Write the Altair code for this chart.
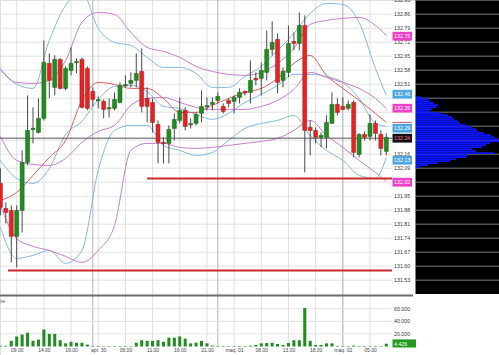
import altair as alt
import pandas as pd

# ---------------- data ----------------
opens = [132.014,131.889,131.879,131.749,131.879,132.119,132.284,132.269,132.339,132.614,
         132.494,132.634,132.489,132.579,132.619,132.634,132.589,132.474,132.429,132.424,
         132.389,132.389,132.419,132.504,132.514,132.529,132.574,132.439,132.419,132.309,
         132.219,132.214,132.289,132.329,132.379,132.309,132.314,132.364,132.399,132.409,
         132.429,132.399,132.429,132.424,132.444,132.474,132.469,132.539,132.539,132.569,
         132.684,132.734,132.529,132.569,132.724,132.714,132.804,132.294,132.279,132.244,
         132.244,132.314,132.409,132.399,132.389,132.419,132.159,132.259,132.249,132.314,
         132.259,132.174]
highs = [132.089,131.919,131.904,131.904,132.179,132.454,132.394,132.439,132.729,132.664,
         132.654,132.639,132.599,132.694,132.639,132.644,132.599,132.494,132.449,132.434,
         132.439,132.469,132.519,132.554,132.569,132.664,132.689,132.494,132.439,132.329,
         132.244,132.304,132.364,132.444,132.394,132.339,132.369,132.479,132.444,132.444,
         132.469,132.414,132.439,132.454,132.489,132.479,132.629,132.569,132.619,132.779,
         132.824,132.764,132.594,132.804,132.769,132.869,132.854,132.329,132.294,132.269,
         132.354,132.469,132.439,132.444,132.429,132.429,132.264,132.274,132.359,132.329,
         132.279,132.264]
lows = [131.854,131.814,131.619,131.594,131.769,132.104,132.214,132.264,132.329,132.439,
        132.454,132.484,132.479,132.554,132.564,132.389,132.379,132.399,132.389,132.339,
        132.344,132.379,132.414,132.494,132.494,132.494,132.369,132.319,132.269,132.114,
        132.114,132.114,132.229,132.314,132.279,132.289,132.304,132.319,132.379,132.379,
        132.414,132.364,132.394,132.364,132.414,132.454,132.414,132.504,132.454,132.529,
        132.654,132.464,132.494,132.544,132.679,132.679,132.069,132.154,132.214,132.194,
        132.189,132.314,132.354,132.379,132.379,132.144,132.144,132.229,132.229,132.229,
        132.154,132.154]
closes = [131.894,131.869,131.749,131.879,132.119,132.279,132.289,132.339,132.619,132.529,
          132.634,132.489,132.589,132.614,132.622,132.394,132.389,132.434,132.431,132.384,
          132.391,132.434,132.504,132.506,132.529,132.564,132.399,132.399,132.319,132.219,
          132.214,132.284,132.334,132.379,132.299,132.311,132.359,132.399,132.401,132.419,
          132.449,132.374,132.414,132.444,132.469,132.466,132.529,132.531,132.579,132.684,
          132.719,132.519,132.574,132.714,132.714,132.804,132.279,132.279,132.244,132.254,
          132.319,132.409,132.369,132.384,132.409,132.169,132.259,132.244,132.314,132.264,
          132.189,132.244]
volumes = [1000,1000,9000,16000,19000,22000,9000,11000,27000,20000,
           20000,10000,5000,7500,6000,6000,3000,1000,1000,800,
           800,800,800,800,800,6000,10000,9000,9000,10000,
           7500,14000,14000,16000,12500,5000,6000,9000,5000,1500,
           800,800,800,800,800,800,1500,2500,5000,5500,
           6000,4000,2500,5500,10000,10000,61000,9000,2500,2500,
           5000,5000,1000,800,800,1500,800,800,800,800,
           800,4426]

# band / average lines, sampled at bar indices
line_idx = [0,3,6,9,12,15,18,21,24,27,30,33,36,39,42,45,48,51,54,57,60,63,66,69,71]
blue_upper = [132.579,132.509,132.489,132.729,132.904,132.969,132.789,132.719,132.704,132.644,
              132.594,132.594,132.564,132.494,132.494,132.549,132.599,132.679,132.764,132.864,
              132.914,132.909,132.819,132.589,132.454]
blue_mid = [132.129,132.039,132.014,132.089,132.259,132.324,132.434,132.499,132.504,132.474,
            132.399,132.389,132.359,132.334,132.364,132.419,132.459,132.504,132.559,132.559,
            132.549,132.519,132.439,132.314,132.299]
blue_lower = [131.794,131.639,131.654,131.679,131.614,131.679,132.079,132.279,132.304,132.304,
              132.204,132.179,132.154,132.169,132.229,132.289,132.314,132.329,132.354,132.254,
              132.179,132.129,132.054,132.039,132.144]
purple_upper = [132.589,132.519,132.514,132.529,132.629,132.819,132.869,132.859,132.769,132.694,
                132.674,132.644,132.599,132.574,132.559,132.554,132.569,132.614,132.689,132.809,
                132.829,132.839,132.844,132.804,132.754]
purple_mid = [132.249,132.129,132.109,132.104,132.139,132.219,132.274,132.304,132.404,132.439,
              132.444,132.419,132.394,132.384,132.384,132.384,132.399,132.429,132.484,132.569,
              132.544,132.519,132.489,132.439,132.389]
purple_lower = [131.904,131.739,131.699,131.679,131.649,131.619,131.679,131.804,132.179,132.214,
                132.214,132.194,132.189,132.194,132.204,132.214,132.224,132.239,132.279,132.329,
                132.254,132.194,132.129,132.069,132.024]
red_avg = [131.929,131.969,132.054,132.144,132.229,132.429,132.519,132.509,132.489,132.489,
           132.439,132.369,132.369,132.404,132.439,132.469,132.489,132.539,132.614,132.654,
           132.554,132.489,132.429,132.364,132.319]

price_ticks = [131.53,131.60,131.67,131.74,131.81,131.88,131.95,132.02,132.09,132.16,132.23,
               132.30,132.37,132.44,132.51,132.58,132.65,132.72,132.79,132.86,132.93]
time_tick_idx = [3,8,13,18,23,28,33,38,43,48,53,58,63,68]
time_tick_lbl = ["09.00","14.00","19.00","apr. 30","06.00","11.00","16.00","21.00",
                 "maq. 01","08.00","13.00","18.00","maq. 02","05.00"]
day_sep_idx = [17,40,63]
vol_ticks = [20000,40000,60000]

support_levels = [132.039, 131.579]
support_start = [27, 1.4]
last_price = 132.24
poc_level = 132.226

profile_levels = [132.45,132.44,132.43,132.42,132.41,132.40,132.39,132.38,132.37,132.36,132.35,132.34,
                  132.33,132.32,132.31,132.30,132.29,132.28,132.27,132.26,132.25,132.24,132.23,132.22,
                  132.21,132.20,132.19,132.18,132.17,132.16,132.15,132.14,132.13,132.12,132.11,132.10]
profile_vol = [5,12,14,18,22,20,16,14,25,32,36,38,42,44,50,56,60,62,68,75,78,82,83,74,70,66,56,60,
               78,52,50,40,34,22,12,4]

tag_values = [132.75,132.46,132.39,132.29,132.24,132.13,132.02]
tag_kinds = ["pink","blue","pink","blue","dark","blue","pink"]
red_tag_value = 132.319

# ---------------- styles ----------------
GREEN = "#228b22"
RED = "#e32424"
BLUE_LINE = "#86b9e2"
PURPLE_LINE = "#c77fcd"
RED_LINE = "#d9605f"
FONT = "Liberation Sans"
x_scale = alt.Scale(domain=[-0.074, 72.05], range=[0, 392], nice=False, zero=False)
y_scale = alt.Scale(domain=[131.456, 132.931], range=[295, 0], nice=False, zero=False)
v_scale = alt.Scale(domain=[0, 78600], range=[346.5, 297], nice=False, zero=False)

# ---------------- frames ----------------
cdf = pd.DataFrame({"i": range(len(opens)), "o": opens, "h": highs, "l": lows, "c": closes})
cdf["top"] = cdf[["o", "c"]].max(axis=1)
cdf["bot"] = cdf[["o", "c"]].min(axis=1)
mid = (cdf["top"] + cdf["bot"]) / 2
small = (cdf["top"] - cdf["bot"]) < 0.006
cdf.loc[small, "top"] = mid[small] + 0.003
cdf.loc[small, "bot"] = mid[small] - 0.003
cdf["x0"] = cdf["i"] - 0.37
cdf["x1"] = cdf["i"] + 0.37
cdf["up"] = cdf["c"] >= cdf["o"]

vdf = pd.DataFrame({"i": range(len(volumes)), "vol": volumes})
vdf["x0"] = vdf["i"] - 0.28
vdf["x1"] = vdf["i"] + 0.28
vdf["z"] = 0

one = pd.DataFrame({"a": [0]})
ticks_df = pd.DataFrame({"p": price_ticks})
# price labels hidden behind the coloured tags are not drawn
label_df = pd.DataFrame({"p": [t for t in price_ticks
                               if min(abs(t - v) for v in tag_values) > 0.028]})

layers = []
# horizontal grid in plot
layers.append(alt.Chart(ticks_df).mark_rule(color="#e2e2e2", strokeWidth=1).encode(
    x=alt.value(0), x2=alt.value(392), y=alt.Y("p:Q", scale=y_scale, axis=None)))
# vertical grid
layers.append(alt.Chart(pd.DataFrame({"g": time_tick_idx})).mark_rule(color="#e0e0e0").encode(
    x=alt.X("g:Q", scale=x_scale, axis=None), y=alt.value(0), y2=alt.value(346.5)))
layers.append(alt.Chart(pd.DataFrame({"g": day_sep_idx})).mark_rule(color="#b5b5b5").encode(
    x=alt.X("g:Q", scale=x_scale, axis=None), y=alt.value(0), y2=alt.value(346.5)))
# price labels
layers.append(alt.Chart(label_df).transform_calculate(lbl="format(datum.p, '.2f')").mark_text(
    align="left", baseline="middle", fontSize=5.3, font=FONT, color="#3a3a3a").encode(
    x=alt.value(394), y=alt.Y("p:Q", scale=y_scale, axis=None), text="lbl:N"))
# black profile area
layers.append(alt.Chart(one).mark_rect(color="black").encode(
    x=alt.value(415.5), x2=alt.value(499), y=alt.value(0), y2=alt.value(294)))
layers.append(alt.Chart(ticks_df).mark_rule(color="#7a7a7a", strokeWidth=1).encode(
    x=alt.value(416), x2=alt.value(499), y=alt.Y("p:Q", scale=y_scale, axis=None)))

# bands
band_styles = [(blue_upper, BLUE_LINE), (blue_lower, BLUE_LINE), (blue_mid, BLUE_LINE),
               (purple_upper, PURPLE_LINE), (purple_lower, PURPLE_LINE), (purple_mid, PURPLE_LINE),
               (red_avg, RED_LINE)]
for vals, col in band_styles:
    df = pd.DataFrame({"i": line_idx, "v": vals})
    layers.append(alt.Chart(df).mark_line(color=col, strokeWidth=1, interpolate="monotone").encode(
        x=alt.X("i:Q", scale=x_scale, axis=None), y=alt.Y("v:Q", scale=y_scale, axis=None)))

# last price line
layers.append(alt.Chart(pd.DataFrame({"p": [last_price]})).mark_rule(color="#555", strokeWidth=1).encode(
    x=alt.value(0), x2=alt.value(392), y=alt.Y("p:Q", scale=y_scale, axis=None)))
# support lines
sdf = pd.DataFrame({"p": support_levels, "s": support_start, "e": [72.05, 72.05]})
layers.append(alt.Chart(sdf).mark_rule(color="#cc2a2a", strokeWidth=2).encode(
    x=alt.X("s:Q", scale=x_scale, axis=None), x2="e:Q", y=alt.Y("p:Q", scale=y_scale, axis=None)))

# candles
base = alt.Chart(cdf)
layers.append(base.mark_rule(color="#4a4a4a", strokeWidth=1).encode(
    x=alt.X("i:Q", scale=x_scale, axis=None), y=alt.Y("l:Q", scale=y_scale, axis=None), y2="h:Q"))
layers.append(base.transform_filter("datum.up").mark_rect(fill=GREEN, stroke="#165c16", strokeWidth=0.5).encode(
    x=alt.X("x0:Q", scale=x_scale, axis=None), x2="x1:Q",
    y=alt.Y("top:Q", scale=y_scale, axis=None), y2="bot:Q"))
layers.append(base.transform_filter("!datum.up").mark_rect(fill=RED, stroke="#9c1a1a", strokeWidth=0.5).encode(
    x=alt.X("x0:Q", scale=x_scale, axis=None), x2="x1:Q",
    y=alt.Y("top:Q", scale=y_scale, axis=None), y2="bot:Q"))

# POC line in profile
layers.append(alt.Chart(pd.DataFrame({"p": [poc_level]})).mark_rule(color="#d0305a", strokeWidth=1.5).encode(
    x=alt.value(416), x2=alt.value(499), y=alt.Y("p:Q", scale=y_scale, axis=None)))

# price tags
layers.append(alt.Chart(pd.DataFrame({"p": [red_tag_value]})).mark_rule(color=RED_LINE, strokeWidth=1).encode(
    x=alt.value(392.5), x2=alt.value(412), y=alt.Y("p:Q", scale=y_scale, axis=None)))
tdf = pd.DataFrame({"v": tag_values, "kind": tag_kinds})
tdf["t"] = tdf["v"] + 0.022
tdf["b"] = tdf["v"] - 0.022
tdf["txt"] = tdf["v"].map(lambda v: f"{v:.2f}")
layers.append(alt.Chart(tdf).mark_rect().encode(
    x=alt.value(392.5), x2=alt.value(412),
    y=alt.Y("t:Q", scale=y_scale, axis=None), y2="b:Q",
    color=alt.Color("kind:N", scale=alt.Scale(domain=["pink", "blue", "dark"],
                                               range=["#ee3fc6", "#4da6e0", "#111111"]), legend=None)))
layers.append(alt.Chart(tdf).mark_text(fontSize=5.3, font=FONT, align="center", baseline="middle").encode(
    x=alt.value(402.2), y=alt.Y("v:Q", scale=y_scale, axis=None), text="txt:N",
    color=alt.condition("datum.kind == 'dark'", alt.value("#ff7090"), alt.value("white"))))

price_layer = alt.layer(*layers)

# ---------------- profile ----------------
pdf = pd.DataFrame({"lv": profile_levels, "pv": profile_vol})
pdf["lo"] = pdf["lv"] - 0.0095
prof_layer = alt.Chart(pdf).mark_rect(color="#0a14ff").encode(
    x=alt.X("pv:Q", scale=alt.Scale(domain=[0, 83], range=[416, 499], nice=False, zero=False), axis=None),
    x2=alt.value(416),
    y=alt.Y("lv:Q", scale=y_scale, axis=None), y2="lo:Q")

# ---------------- volume ----------------
lbl_js = "[" + ",".join("'" + s + "'" for s in time_tick_lbl) + "]"
x_axis = alt.Axis(orient="bottom", offset=-8, values=time_tick_idx,
                  labelExpr=lbl_js + "[(datum.value - 3) / 5]",
                  labelFontSize=5, labelColor="#444", labelFont=FONT, ticks=False,
                  domain=False, grid=False, labelPadding=0, title=None, labelOverlap=False)
vt_df = pd.DataFrame({"v": vol_ticks})
vlayers = []
vlayers.append(alt.Chart(vt_df).mark_rule(color="#e2e2e2").encode(
    x=alt.value(0), x2=alt.value(392), y=alt.Y("v:Q", scale=v_scale, axis=None)))
vlayers.append(alt.Chart(vt_df).transform_calculate(
    lbl="replace(format(datum.v, ',d'), ',', '.')").mark_text(
    align="left", baseline="middle", fontSize=5.3, font=FONT, color="#3a3a3a").encode(
    x=alt.value(394), y=alt.Y("v:Q", scale=v_scale, axis=None), text="lbl:N"))
vlayers.append(alt.Chart(one).mark_rule(color="#6e6e6e", strokeWidth=2).encode(
    x=alt.value(0), x2=alt.value(413), y=alt.value(295.5)))
vlayers.append(alt.Chart(vdf).mark_rect(color=GREEN).encode(
    x=alt.X("x0:Q", scale=x_scale, axis=x_axis), x2="x1:Q",
    y=alt.Y("vol:Q", scale=v_scale, axis=None), y2="z:Q"))
vlayers.append(alt.Chart(one).mark_text(text="Volume", align="left", baseline="middle",
                                        fontSize=5.5, font=FONT, color="#666").encode(
    x=alt.value(-13), y=alt.value(301)))
last_vol = pd.DataFrame({"v": [volumes[-1]], "txt": ["4.426"]})
last_vol["t"] = last_vol["v"] + 6800
last_vol["b"] = last_vol["v"] - 6000
vlayers.append(alt.Chart(last_vol).mark_rect(color="#1f9a1f").encode(
    x=alt.value(392.5), x2=alt.value(416), y=alt.Y("t:Q", scale=v_scale, axis=None), y2="b:Q"))
vlayers.append(alt.Chart(last_vol).mark_text(fontSize=5.3, font=FONT, color="white", align="left",
                                             baseline="middle").encode(
    x=alt.value(394), y=alt.Y("v:Q", scale=v_scale, axis=None), text="txt:N"))
vol_layer = alt.layer(*vlayers)

chart = alt.layer(price_layer, vol_layer, prof_layer).resolve_scale(
    x="independent", y="independent", color="independent"
).properties(
    width=499, height=355, autosize=alt.AutoSizeParams(type="none"), padding=0
).configure_view(stroke=None).configure(background="white")

chart.save("out.html", embed_options={"renderer": "svg", "actions": False})
